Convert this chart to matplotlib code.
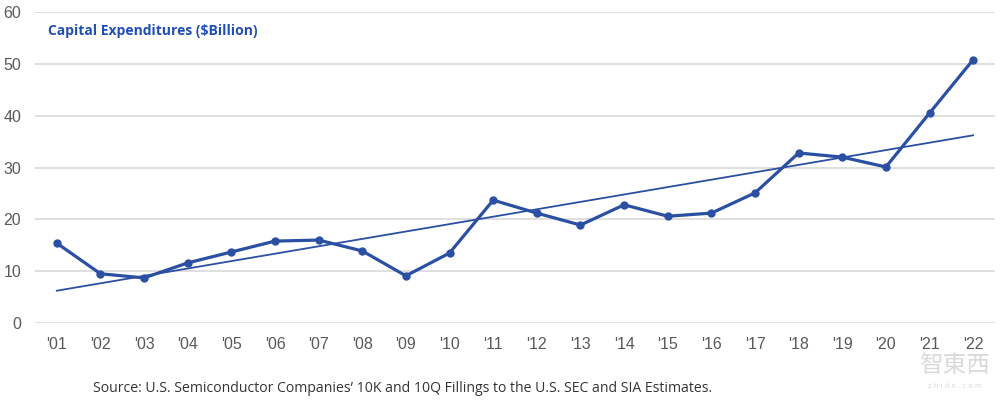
import numpy as np
import matplotlib.pyplot as plt

# Capital expenditures, $ billion, 2001-2022
years = ["'01", "'02", "'03", "'04", "'05", "'06", "'07", "'08", "'09", "'10", "'11",
         "'12", "'13", "'14", "'15", "'16", "'17", "'18", "'19", "'20", "'21", "'22"]
capex = [15.4, 9.5, 8.7, 11.6, 13.7, 15.8, 16.0, 13.9, 9.1, 13.5, 23.7,
         21.2, 18.9, 22.8, 20.6, 21.2, 25.1, 32.8, 32.0, 30.1, 40.5, 50.8]
y_ticks = [0, 10, 20, 30, 40, 50, 60]

blue = '#2B4FA2'

fig = plt.figure(figsize=(10, 4), dpi=100)
ax = fig.add_axes([0.035, 0.1925, 0.96, 0.7775])

x = np.arange(len(years))
y = np.asarray(capex)

# linear trend line fitted to the series
coef = np.polyfit(x, y, 1)
ax.plot(x, np.polyval(coef, x), color=blue, lw=1.3, zorder=3)
ax.plot(x, y, color=blue, lw=2.3, marker='o', markersize=5, zorder=4)

ax.set_xlim(-0.5, len(years) - 0.5)
ax.set_ylim(0, 60)
ax.set_yticks(y_ticks)
ax.set_xticks(x)
ax.set_xticklabels(years)
ax.grid(axis='y', color='#dcdcdc', lw=1.3)
ax.set_axisbelow(True)
for s in ax.spines.values():
    s.set_visible(False)
ax.tick_params(length=0, labelsize=11.5, colors='#595959', pad=10)
ax.tick_params(axis='y', pad=10)
for lab in ax.get_xticklabels() + ax.get_yticklabels():
    lab.set_family('Liberation Sans')

fig.text(0.048, 0.922, 'Capital Expenditures ($Billion)', color='#1F4EB4',
         fontsize=10, fontweight='bold', family='Open Sans', va='center')
fig.text(0.093, 0.03, 'Source: U.S. Semiconductor Companies\u2019 10K and 10Q Fillings to the U.S. SEC and SIA Estimates.',
         color='#333333', fontsize=10.1, family='Open Sans', va='center')

# watermark
fig.text(0.955, 0.085, '智東西', color='#d0d0d0', fontsize=17, family='Noto Sans CJK SC',
         ha='center', va='center', alpha=0.8)
fig.text(0.955, 0.035, 'z h i d x . c o m', color='#d8d8d8', fontsize=5,
         ha='center', va='center')

plt.savefig('out.png')
